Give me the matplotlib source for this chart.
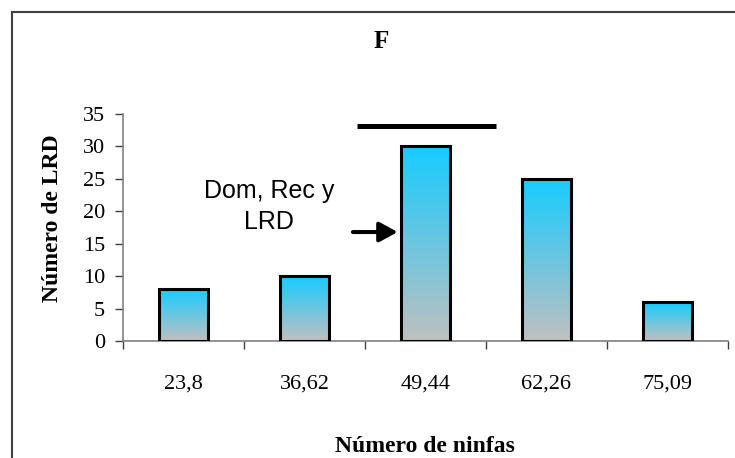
import numpy as np
import matplotlib
matplotlib.use("Agg")
import matplotlib.pyplot as plt
from matplotlib.colors import LinearSegmentedColormap
from matplotlib.lines import Line2D

# ---- data ----
categories = ["23,8", "36,62", "49,44", "62,26", "75,09"]
values = [8, 10, 30, 25, 6]
y_ticks = [0, 5, 10, 15, 20, 25, 30, 35]
title = "F"
xlabel = "Número de ninfas"
ylabel = "Número de LRD"
note_text = "Dom, Rec y\nLRD"

serif = ["Liberation Serif", "DejaVu Serif"]
sans = ["Liberation Sans", "DejaVu Sans"]

fig = plt.figure(figsize=(7.35, 4.58), dpi=100)
W, H = 735, 458
ax = fig.add_axes([123 / W, 1 - 341 / H, 605 / W, 227 / H])

x = np.arange(len(categories))
bars = ax.bar(x, values, width=0.41, facecolor="none", edgecolor="black",
              linewidth=2.2, zorder=3)

cmap = LinearSegmentedColormap.from_list("g", ["#C0C0C0", "#17CCFF"])
grad = np.linspace(0, 1, 256).reshape(-1, 1)
for r in bars:
    bx, by, bw, bh = r.get_x(), r.get_y(), r.get_width(), r.get_height()
    im = ax.imshow(grad, extent=[bx, bx + bw, by, by + bh], origin="lower",
                   aspect="auto", cmap=cmap, zorder=2, interpolation="bilinear")
    im.set_clip_path(r)

ax.set_xlim(-0.5, len(categories) - 0.5)
ax.set_ylim(0, 35)

# axes styling
for s in ["top", "right"]:
    ax.spines[s].set_visible(False)
for s in ["left", "bottom"]:
    ax.spines[s].set_color("#808080")
    ax.spines[s].set_linewidth(1.2)

ax.set_yticks(y_ticks)
ax.set_yticklabels([str(v) for v in y_ticks], fontfamily=serif, fontsize=16)
ax.tick_params(axis="y", direction="out", length=6, width=1, color="#404040", pad=7)

ax.set_xticks(np.arange(len(categories) + 1) - 0.5)
ax.set_xticklabels([])
ax.tick_params(axis="x", which="major", direction="out", length=6, width=1, color="#404040")
ax.set_xticks(x, minor=True)
ax.set_xticklabels(categories, minor=True, fontfamily=serif, fontsize=16)
ax.tick_params(axis="x", which="minor", length=0, pad=24)

fig.text(425 / W, 1 - 446 / H, xlabel, fontfamily=serif, fontsize=17,
         fontweight="bold", ha="center", va="center")
fig.text(52 / W, 1 - 218 / H, ylabel, fontfamily=serif, fontsize=17,
         fontweight="bold", ha="center", va="center", rotation=90)

fig.text(381 / W, 1 - 42 / H, title, fontfamily=serif, fontsize=18,
         fontweight="bold", ha="center", va="center")

# significance bar and annotation
ax.plot([1.43, 2.58], [33.1, 33.1], color="black", lw=3.6, clip_on=False,
        solid_capstyle="butt", zorder=4)
ax.annotate("", xy=(1.77, 16.8), xytext=(1.40, 16.8),
            arrowprops=dict(arrowstyle="-|>,head_length=0.55,head_width=0.3",
                            lw=2.9, color="black", mutation_scale=20,
                            shrinkA=0, shrinkB=0), zorder=4)
ax.text(0.71, 20.7, note_text, fontfamily=sans, fontsize=18, ha="center",
        va="center", linespacing=1.35)

# outer chart frame (cropped)
fig.add_artist(Line2D([12 / W, 1.0], [1 - 12 / H, 1 - 12 / H],
                      transform=fig.transFigure, color="#404040", lw=1.5))
fig.add_artist(Line2D([12 / W, 12 / W], [1 - 12 / H, 0.0],
                      transform=fig.transFigure, color="#404040", lw=1.5))

fig.savefig("out.png", dpi=100)
